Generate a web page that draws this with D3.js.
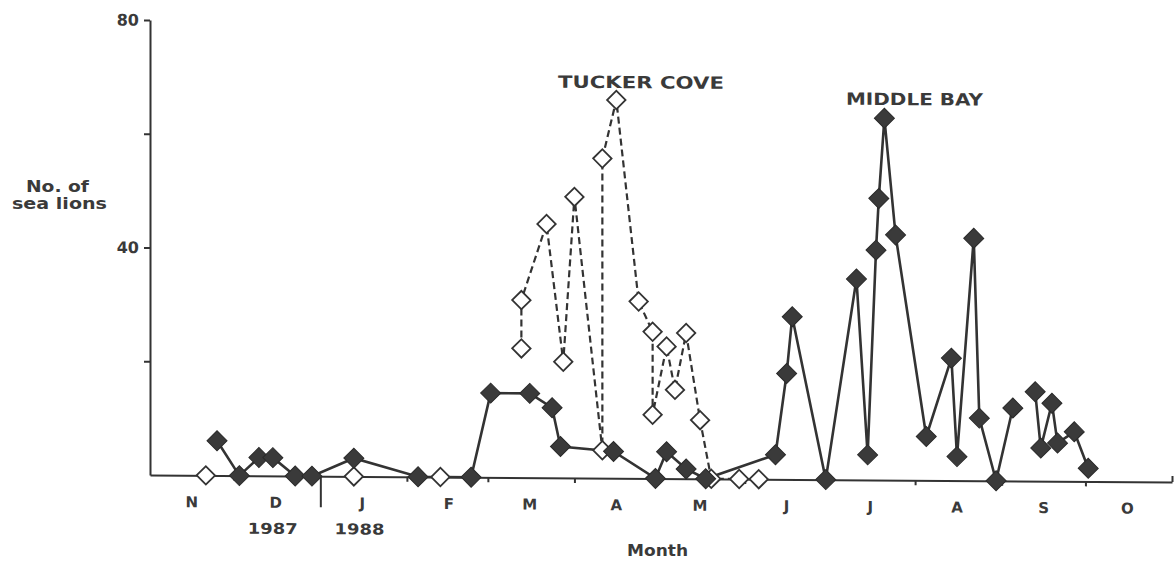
<!DOCTYPE html>
<html>
<head>
<meta charset="utf-8">
<script src="https://cdn.jsdelivr.net/npm/d3@7/dist/d3.min.js"></script>
<style>
  body { margin: 0; background: #fff; }
  svg { display: block; }
  text { font-family: "DejaVu Sans", "Liberation Sans", Arial, sans-serif; fill: #3a3a3a; font-weight: bold; }
</style>
</head>
<body>
<div id="chart"></div>
<script>
  // Middle Bay (filled diamonds, solid line); null = gap in the line
  var middleBayDates = ["1987-11-25", "1987-12-03", "1987-12-10", "1987-12-15", "1987-12-23", "1987-12-29",
    "1988-01-13", "1988-02-05", "1988-02-24", "1988-03-02", "1988-03-16", "1988-03-24", "1988-03-27",
    "1988-04-15", "1988-04-30", "1988-05-04", "1988-05-11", "1988-05-18", "1988-06-12", "1988-06-16",
    "1988-06-18", "1988-06-30", "1988-07-11", "1988-07-15", "1988-07-18", "1988-07-19", "1988-07-21",
    "1988-07-25", "1988-08-05", "1988-08-14", "1988-08-16", "1988-08-22", "1988-08-24", "1988-08-30",
    "1988-09-05", "1988-09-09", "1988-09-13", "1988-09-15", "1988-09-19", "1988-09-21", "1988-09-27",
    "1988-10-02"];
  var middleBayCounts = [6.1, 0, 3.2, 3.2, 0, 0,
    3.2, 0, 0, 14.8, 14.8, 12.3, 5.5,
    4.7, 0, 4.7, 1.7, 0, 4.3, 18.6,
    28.6, 0, 35.3, 4.4, 40.4, 49.5, 63.6,
    43.1, 7.7, 21.5, 4.2, 42.6, 11, 0,
    12.8, null, 15.7, 5.8, 13.7, 6.7, 8.7,
    2.3];

  // Tucker Cove (open diamonds, dashed line)
  var tuckerCoveDates = ["1987-11-21", "1988-01-13", "1988-02-13", "1988-02-20",
    "1988-03-13", "1988-03-13", "1988-03-22", "1988-03-28", "1988-04-01", "1988-04-11", "1988-04-11",
    "1988-04-16", "1988-04-24", "1988-04-29", "1988-04-29", "1988-05-04", "1988-05-07", "1988-05-11",
    "1988-05-16", "1988-05-20", "1988-05-30", "1988-06-06"];
  var tuckerCoveCounts = [0, 0, 0, null,
    22.7, 31.2, 44.6, 20.4, 49.4, 4.9, 56.2,
    66.5, 31.1, 25.8, 11.2, 23.2, 15.6, 25.6,
    10.3, 0, 0, 0];

  var monthLabels = ["N", "D", "J", "F", "M", "A", "M", "J", "J", "A", "S", "O"];
  var yearLabels = ["1987", "1988"];
  var yearLabelMonths = ["1987-12-15", "1988-01-15"];
  var yTicks = [20, 40, 60, 80];
  var yTickLabels = [40, 80];

  var W = 1176, H = 562;
  var x0 = 150, x1 = 1172, yTop = 20, yBase = 475;
  var parse = d3.timeParse("%Y-%m-%d");

  var x = d3.scaleTime()
    .domain([parse("1987-11-01"), parse("1988-11-01")])
    .range([x0, x1]);
  var y = d3.scaleLinear().domain([0, 80]).range([yBase, yTop]);

  var svg = d3.select("#chart").append("svg")
    .attr("width", W)
    .attr("height", H);

  // the scanned figure sags slightly to the right
  var g = svg.append("g")
    .attr("transform", "translate(" + x0 + ",0) skewY(0.39) translate(" + (-x0) + ",0)");

  // Axes
  var yAxis = g.append("g")
    .attr("transform", "translate(" + x0 + ",0)")
    .call(d3.axisLeft(y).tickValues(yTicks).tickSize(6).tickSizeOuter(0)
      .tickFormat(function (d) { return yTickLabels.indexOf(d) >= 0 ? d : ""; }));
  yAxis.selectAll("path, line").attr("stroke", "#333").attr("stroke-width", 2);
  yAxis.selectAll("text").attr("font-size", "16px").attr("dx", "-2");

  var xAxis = g.append("g")
    .attr("transform", "translate(0," + yBase + ")")
    .call(d3.axisBottom(x).ticks(d3.timeMonth.every(1)).tickSize(5).tickSizeOuter(0).tickFormat(""));
  xAxis.selectAll("path, line").attr("stroke", "#333").attr("stroke-width", 2);
  xAxis.selectAll(".tick line")
    .attr("y2", function (d) {
      if (d.getMonth() === 0) { return 31; }
      if (d.getMonth() === 10) { return d.getFullYear() === 1988 ? -6 : 0; }
      return 5;
    });

  g.selectAll(".month-label")
    .data(monthLabels)
    .enter().append("text")
    .attr("class", "month-label")
    .attr("x", function (d, i) { return x(d3.timeDay.offset(d3.timeMonth.offset(parse("1987-11-01"), i), 15)); })
    .attr("y", 507)
    .attr("text-anchor", "middle")
    .attr("font-size", "15px")
    .text(function (d) { return d; });

  g.selectAll(".year-label")
    .data(yearLabels)
    .enter().append("text")
    .attr("class", "year-label")
    .attr("x", function (d, i) { return x(parse(yearLabelMonths[i])) - 50 / 2; })
    .attr("y", 533)
    .attr("font-size", "15px")
    .attr("textLength", 50)
    .attr("lengthAdjust", "spacingAndGlyphs")
    .text(function (d) { return d; });

  svg.append("text")
    .attr("x", 627).attr("y", 556)
    .attr("font-size", "15px")
    .attr("textLength", 61).attr("lengthAdjust", "spacingAndGlyphs")
    .text("Month");

  svg.append("text")
    .attr("x", 26).attr("y", 192)
    .attr("font-size", "15px")
    .attr("textLength", 63).attr("lengthAdjust", "spacingAndGlyphs")
    .text("No. of");
  svg.append("text")
    .attr("x", 12).attr("y", 209)
    .attr("font-size", "15px")
    .attr("textLength", 95).attr("lengthAdjust", "spacingAndGlyphs")
    .text("sea lions");

  g.append("text")
    .attr("x", 558).attr("y", 85)
    .attr("font-size", "17px")
    .attr("textLength", 166).attr("lengthAdjust", "spacingAndGlyphs")
    .text("TUCKER COVE");
  g.append("text")
    .attr("x", 846).attr("y", 100)
    .attr("font-size", "17px")
    .attr("textLength", 137).attr("lengthAdjust", "spacingAndGlyphs")
    .text("MIDDLE BAY");

  // Data
  var middleBay = middleBayDates.map(function (d, i) {
    return { date: parse(d), count: middleBayCounts[i] };
  });
  var tuckerCove = tuckerCoveDates.map(function (d, i) {
    return { date: parse(d), count: tuckerCoveCounts[i] };
  });

  var line = d3.line()
    .defined(function (d) { return d.count !== null; })
    .x(function (d) { return x(d.date); })
    .y(function (d) { return y(d.count); });

  g.append("path")
    .datum(tuckerCove.slice(4))
    .attr("fill", "none")
    .attr("stroke", "#333")
    .attr("stroke-width", 2.2)
    .attr("stroke-dasharray", "7,4")
    .attr("d", line);

  g.append("path")
    .datum(middleBay)
    .attr("fill", "none")
    .attr("stroke", "#333")
    .attr("stroke-width", 2.6)
    .attr("d", line);

  var diamond = d3.symbol().type(d3.symbolSquare);

  g.selectAll(".tc-point")
    .data(tuckerCove.filter(function (d) { return d.count !== null; }))
    .enter().append("path")
    .attr("class", "tc-point")
    .attr("d", diamond.size(170)())
    .attr("transform", function (d) { return "translate(" + x(d.date) + "," + y(d.count) + ") rotate(45)"; })
    .attr("fill", "#fff")
    .attr("stroke", "#333")
    .attr("stroke-width", 1.8);

  g.selectAll(".mb-point")
    .data(middleBay.filter(function (d) { return d.count !== null; }))
    .enter().append("path")
    .attr("class", "mb-point")
    .attr("d", diamond.size(200)())
    .attr("transform", function (d) { return "translate(" + x(d.date) + "," + y(d.count) + ") rotate(45)"; })
    .attr("fill", "#3a3a3a")
    .attr("stroke", "#2a2a2a")
    .attr("stroke-width", 1);
</script>
</body>
</html>
